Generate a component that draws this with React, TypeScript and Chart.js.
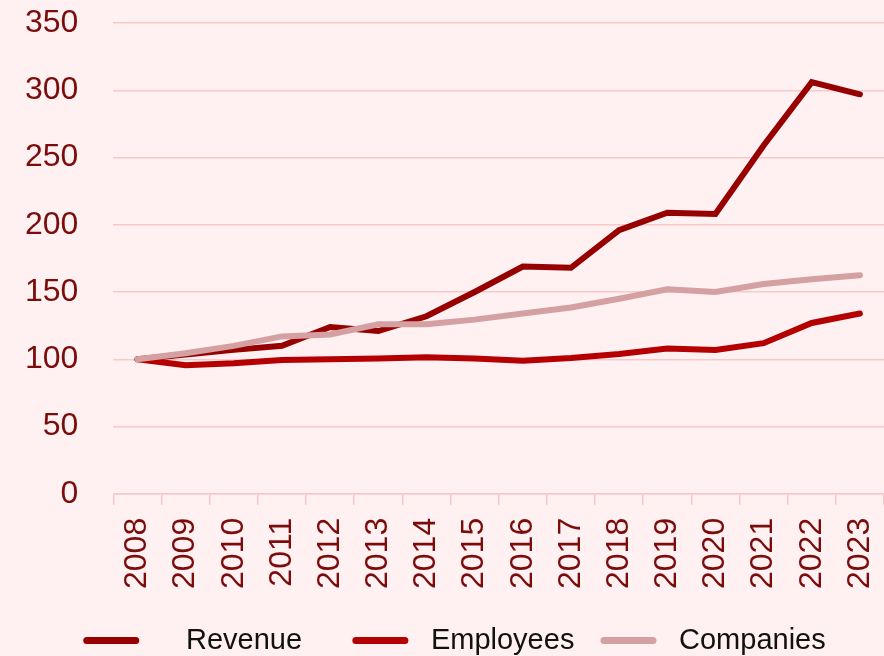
import React, { useEffect, useRef } from "react";
import { Chart, registerables } from "chart.js";

Chart.register(...registerables);

const years = ["2008", "2009", "2010", "2011", "2012", "2013", "2014", "2015", "2016", "2017", "2018", "2019", "2020", "2021", "2022", "2023"];
const revenue = [100, 103.5, 107, 110, 124, 121, 132, 150, 169, 168, 196, 209, 208, 259, 306, 297];
const employees = [100, 95.5, 97, 99.5, 100, 100.5, 101.5, 100.5, 99, 101, 104, 108, 107, 112, 127, 134];
const companies = [100, 104.5, 110, 117, 118.5, 126, 126, 129.5, 134, 138.5, 145, 152, 150, 156, 159.5, 162.5];
const yTicks = [0, 50, 100, 150, 200, 250, 300, 350];
const legendText = ["    Revenue     ", " Employees  ", " Companies"];

const BG = "#fff0f1";
const GRID = "#f9c8c9";
const TICK_COLOR = "#7a0c0c";
const FONT = "'Liberation Sans', Arial, sans-serif";

export default function App() {
  const ref = useRef<HTMLCanvasElement | null>(null);

  useEffect(() => {
    if (!ref.current) return;
    const chart = new Chart(ref.current, {
      type: "line",
      data: {
        labels: years,
        datasets: [
          { label: "Revenue", data: revenue, borderColor: "#960000", backgroundColor: "#960000", borderWidth: 6, pointRadius: 0, borderCapStyle: "round", order: 2 },
          { label: "Employees", data: employees, borderColor: "#b40000", backgroundColor: "#b40000", borderWidth: 6, pointRadius: 0, borderCapStyle: "round", order: 1 },
          { label: "Companies", data: companies, borderColor: "#d4a0a2", backgroundColor: "#d4a0a2", borderWidth: 6, pointRadius: 0, borderCapStyle: "round", order: 0 },
        ],
      },
      options: {
        animation: false,
        responsive: true,
        maintainAspectRatio: false,
        layout: { padding: { left: 25, right: 0, top: 23, bottom: -9 } },
        plugins: {
          tooltip: { enabled: false },
          legend: {
            position: "bottom",
            labels: {
              font: { family: FONT, size: 29 },
              color: "#111111",
              boxWidth: 56,
              boxHeight: 7,
              padding: 10,
              useBorderRadius: true,
              borderRadius: 3.5,
              sort: (a: any, b: any) => a.datasetIndex - b.datasetIndex,
              generateLabels: (chart: any) => {
                const items = Chart.defaults.plugins.legend.labels.generateLabels(chart);
                return items.map((it: any) => ({
                  ...it,
                  text: legendText[it.datasetIndex],
                  fillStyle: chart.data.datasets[it.datasetIndex].borderColor,
                  strokeStyle: chart.data.datasets[it.datasetIndex].borderColor,
                  lineWidth: 0,
                }));
              },
            },
          },
        },
        scales: {
          x: {
            offset: true,
            grid: { display: true, drawOnChartArea: false, drawTicks: true, tickLength: 11, color: GRID, lineWidth: 1.5, offset: true },
            border: { display: true, color: GRID, width: 1.5 },
            ticks: { font: { family: FONT, size: 32 }, color: TICK_COLOR, minRotation: 90, maxRotation: 90, autoSkip: false, padding: 13 },
            afterFit: (scale: any) => {
              scale.paddingLeft = 0;
              scale.paddingRight = 0;
              scale.height += 14;
            },
          },
          y: {
            min: 0,
            max: 350,
            afterBuildTicks: (scale: any) => {
              scale.ticks = yTicks.map((v) => ({ value: v }));
            },
            grid: { color: GRID, lineWidth: 1.5, drawTicks: false },
            border: { display: false },
            ticks: { font: { family: FONT, size: 32 }, color: TICK_COLOR, padding: 35 },
            afterFit: (scale: any) => {
              scale.paddingTop = 0;
              scale.paddingBottom = 0;
              scale.width -= 35;
            },
          },
        },
      },
    });
    return () => chart.destroy();
  }, []);

  return (
    <div style={{ position: "fixed", left: 0, top: 0, width: 884, height: 656, background: BG }}>
      <canvas ref={ref} style={{ display: "block" }} />
    </div>
  );
}
